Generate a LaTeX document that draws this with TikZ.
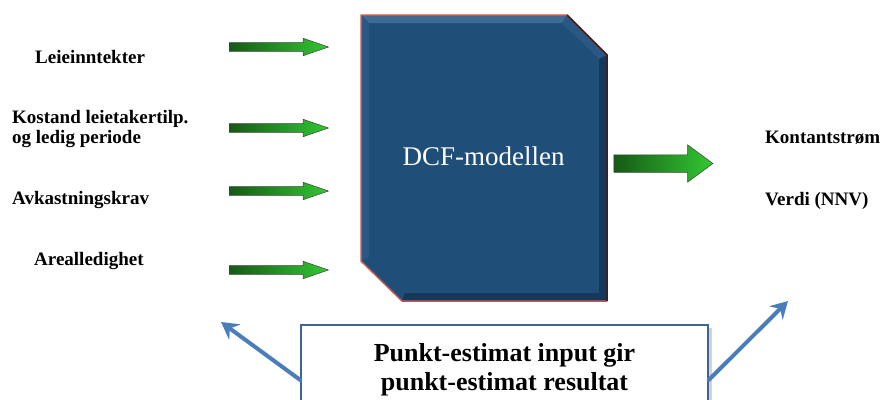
\documentclass[tikz,border=0pt]{standalone}
\usepackage{fontspec}
\setmainfont{Liberation Serif}
\usepackage{tikz}
\usetikzlibrary{shapes,arrows.meta,positioning,shadows,calc}
\definecolor{dcfblue}{RGB}{31,78,121}
\definecolor{dcflight}{RGB}{62,106,150}
\definecolor{dcfmid}{RGB}{42,88,132}
\definecolor{dcfdark}{RGB}{22,56,90}
\definecolor{dcfrim}{RGB}{192,90,84}
\definecolor{dcfedge}{RGB}{62,30,30}
\definecolor{greendark}{RGB}{22,90,22}
\definecolor{greenlight}{RGB}{50,200,50}
\definecolor{noteblue}{RGB}{74,126,187}
\definecolor{noteframe}{RGB}{62,100,145}
\tikzstyle{inarrow}=[single arrow, draw=black!75, line width=0.5pt, left color=greendark, right color=greenlight, minimum height=99pt, minimum width=17pt, inner sep=0pt, inner ysep=4.2pt, single arrow head extend=4.3pt, single arrow tip angle=38]
\tikzstyle{outarrow}=[inarrow, minimum width=37pt, inner ysep=8.5pt, single arrow head extend=10pt, single arrow tip angle=73]
\tikzstyle{label}=[font=\bfseries\fontsize{19}{20}\selectfont, inner sep=0pt, anchor=base west, align=left]
\tikzstyle{notebox}=[draw=noteframe, line width=1.5pt, fill=white, minimum width=407pt, minimum height=90pt, font=\bfseries\fontsize{26}{29}\selectfont, align=center, drop shadow={shadow xshift=4pt, shadow yshift=-3pt, opacity=0.35}]
\tikzstyle{notearrow}=[draw=noteblue, line width=4pt, line cap=round, -{Stealth[length=17pt,width=19pt,inset=6pt]}]

\begin{document}
\begin{tikzpicture}[x=1pt,y=-1pt]
				\useasboundingbox(0,0)rectangle(880,399);
				% model block with bevelled faces
				\fill[dcfblue](361,15)--(567,15)--(607,55)--(607,301)--(402,301)--(361,261)--cycle;
				\fill[dcflight](361,15)--(567,15)--(562,23)--(369,23)--cycle;
				\fill[dcfmid](567,15)--(607,55)--(599,59)--(562,23)--cycle;
				\fill[dcfdark](607,55)--(607,301)--(599,293)--(599,59)--cycle;
				\fill[dcfdark](607,301)--(402,301)--(405,293)--(599,293)--cycle;
				\fill[dcfmid](361,261)--(361,15)--(369,23)--(369,257)--cycle;
				\draw[dcfrim, line width=1.5pt, line join=round](607,55)--(567,15)--(361,15)--(361,261)--(402,301)--(607,301);
				\draw[dcfedge, line width=1.5pt](567,15)--(607,55)--(607,301);
				\node[text=white, font=\fontsize{27}{30}\selectfont, anchor=base](dcf)at(483.5,165.5){DCF-modellen};
				% inputs
				\node[label](leie)at(35,63){Leieinntekter};
				\node[label, anchor=west](kost)at(12,129.5){Kostand leietakertilp.\\og ledig periode};
				\node[label](avk)at(12,204){Avkastningskrav};
				\node[label](areal)at(34,265){Arealledighet};
				\node[inarrow](in1)at(272.5,47){};
				\node[inarrow](in2)at(272.5,128){};
				\node[inarrow](in3)at(272.5,191){};
				\node[inarrow](in4)at(272.5,270){};
				% output
				\node[outarrow](out)at(657.5,163.5){};
				\node[label](kontant)at(765,143){Kontantstrøm};
				\node[label](verdi)at(765,205){Verdi (NNV)};
				% note
				\node[notebox](note)at(504.5,370){Punkt-estimat input gir\\punkt-estimat resultat};
				\coordinate(lt)at(221,322);
				\coordinate(rt)at(788,301);
				\draw[notearrow]([yshift=-10pt]note.west)--(lt);
				\draw[notearrow]([yshift=-10pt]note.east)--(rt);
			\end{tikzpicture}
\end{document}
